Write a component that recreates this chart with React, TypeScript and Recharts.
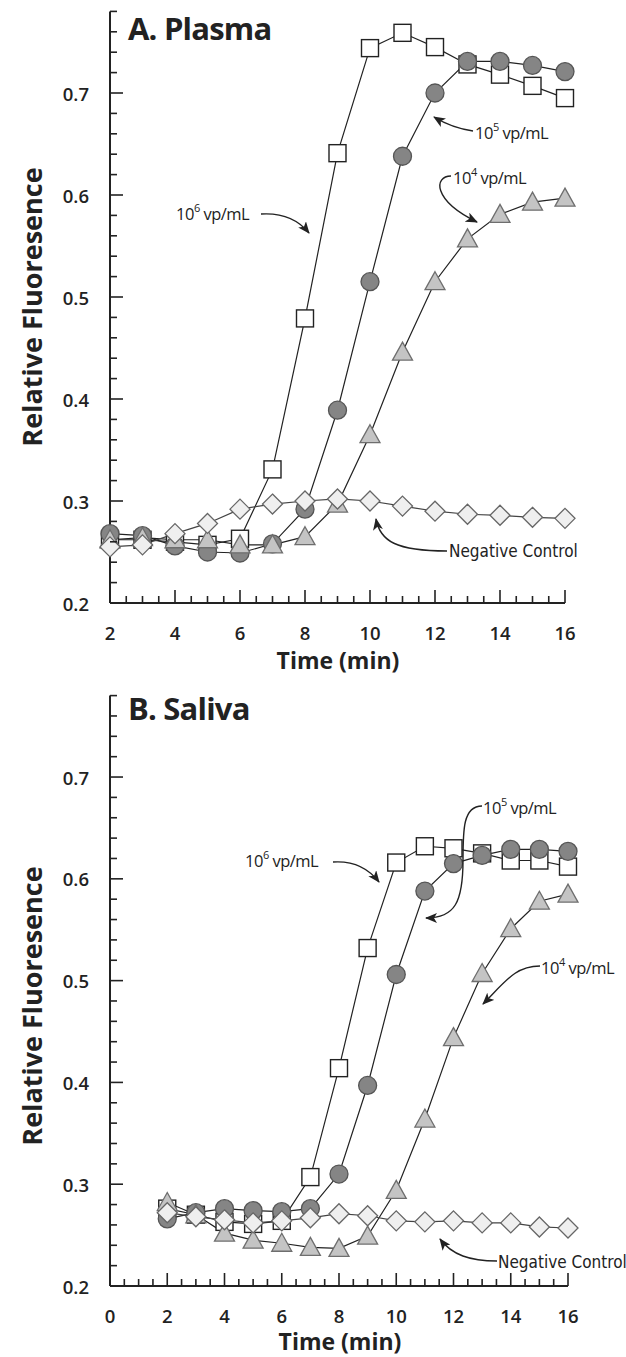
import React from "react";
import { LineChart, Line, XAxis, YAxis } from "recharts";

// time points (min)
const times = [2, 3, 4, 5, 6, 7, 8, 9, 10, 11, 12, 13, 14, 15, 16];

// A. Plasma
const plasma1e6 = [0.262, 0.262, 0.26, 0.257, 0.263, 0.331, 0.479, 0.641, 0.744, 0.759, 0.745, 0.728, 0.718, 0.707, 0.695];
const plasma1e5 = [0.268, 0.266, 0.256, 0.25, 0.249, 0.258, 0.292, 0.389, 0.515, 0.638, 0.7, 0.731, 0.731, 0.727, 0.721];
const plasma1e4 = [0.262, 0.264, 0.262, 0.262, 0.257, 0.257, 0.265, 0.297, 0.365, 0.446, 0.515, 0.557, 0.581, 0.593, 0.597];
const plasmaNeg = [0.255, 0.257, 0.268, 0.278, 0.292, 0.297, 0.3, 0.302, 0.3, 0.295, 0.29, 0.287, 0.286, 0.284, 0.283];

// B. Saliva
const saliva1e6 = [0.276, 0.27, 0.263, 0.261, 0.264, 0.307, 0.414, 0.532, 0.616, 0.632, 0.63, 0.625, 0.618, 0.618, 0.612];
const saliva1e5 = [0.266, 0.272, 0.276, 0.274, 0.273, 0.276, 0.31, 0.397, 0.506, 0.588, 0.615, 0.623, 0.629, 0.629, 0.627];
const saliva1e4 = [0.282, 0.27, 0.252, 0.245, 0.242, 0.238, 0.237, 0.249, 0.294, 0.364, 0.444, 0.507, 0.551, 0.578, 0.585];
const salivaNeg = [0.272, 0.268, 0.265, 0.262, 0.264, 0.267, 0.271, 0.269, 0.264, 0.263, 0.264, 0.262, 0.262, 0.258, 0.257];

// axis labels
const plasmaXLabels = [2, 4, 6, 8, 10, 12, 14, 16];
const salivaXLabels = [0, 2, 4, 6, 8, 10, 12, 14, 16];
const yLabels = [0.2, 0.3, 0.4, 0.5, 0.6, 0.7];

const plasmaXTicks = Array.from({ length: 29 }, (_, i) => 2 + i * 0.5);
const salivaXTicks = Array.from({ length: 33 }, (_, i) => i * 0.5);
const yTicks = Array.from({ length: 30 }, (_, i) => Math.round((0.2 + i * 0.02) * 100) / 100);

const buildRows = (a: number[], b: number[], c: number[], d: number[]) =>
    times.map((t, i) => ({ t, s6: a[i], s5: b[i], s4: c[i], neg: d[i] }));

const plasmaRows = buildRows(plasma1e6, plasma1e5, plasma1e4, plasmaNeg);
const salivaRows = buildRows(saliva1e6, saliva1e5, saliva1e4, salivaNeg);

const FONT = "'Open Sans', 'Noto Sans', sans-serif";
const INK = "#222";

const squareDot = (p: any) => (
    <rect key={`sq-${p.index}`} x={p.cx - 8.5} y={p.cy - 8.5} width={17} height={17}
          fill="#fff" stroke={INK} strokeWidth={1.4} />
);
const circleDot = (p: any) => (
    <circle key={`ci-${p.index}`} cx={p.cx} cy={p.cy} r={9} fill="#858585" stroke="#555" strokeWidth={1.3} />
);
const triangleDot = (p: any) => (
    <path key={`tr-${p.index}`}
          d={`M${p.cx},${p.cy - 10} L${p.cx + 10},${p.cy + 8} L${p.cx - 10},${p.cy + 8} Z`}
          fill="#c4c4c4" stroke="#6e6e6e" strokeWidth={1.3} />
);
const diamondDot = (p: any) => (
    <path key={`di-${p.index}`}
          d={`M${p.cx},${p.cy - 10} L${p.cx + 10},${p.cy} L${p.cx},${p.cy + 10} L${p.cx - 10},${p.cy} Z`}
          fill="#efefef" stroke="#666" strokeWidth={1.3} />
);

const YTick = (props: any) => {
    const { x, y, payload } = props;
    const v = payload.value;
    const major = yLabels.some((l) => Math.abs(l - v) < 1e-6);
    return (
        <g>
            <line x1={x} x2={x + (major ? 13 : 7)} y1={y} y2={y} stroke={INK} strokeWidth={1.6} />
            {major && (
                <text x={x - 21} y={y} textAnchor="end" dominantBaseline="central"
                      fontFamily={FONT} fontSize={18.5} fontWeight={600} fill={INK}>
                    {v.toFixed(1)}
                </text>
            )}
        </g>
    );
};

const makeXTick = (labels: number[]) => (props: any) => {
    const { x, y, payload } = props;
    const v = payload.value;
    const major = labels.includes(v);
    return (
        <g>
            <line x1={x} x2={x} y1={y} y2={y - (major ? 13 : 7)} stroke={INK} strokeWidth={1.6} />
            {major && (
                <text x={x} y={y + 29} textAnchor="middle" dominantBaseline="central"
                      fontFamily={FONT} fontSize={18.5} fontWeight={600} fill={INK}>
                    {v}
                </text>
            )}
        </g>
    );
};

const axisStroke = { stroke: INK, strokeWidth: 2 };

const Panel = ({ rows, xDomain, xTicks, xLabels, height, top, right, xHeight }: any) => (
    <LineChart width={626} height={height} data={rows}
               margin={{ top, right, left: 0, bottom: 0 }}>
        <XAxis dataKey="t" type="number" domain={xDomain} ticks={xTicks} interval={0}
               tick={makeXTick(xLabels)} tickSize={0} tickMargin={0} tickLine={false}
               axisLine={axisStroke} height={xHeight} />
        <YAxis type="number" domain={[0.2, 0.78]} ticks={yTicks} interval={0}
               tick={<YTick />} tickSize={0} tickMargin={0} tickLine={false}
               axisLine={axisStroke} width={110} />
        <Line type="linear" dataKey="s6" stroke={INK} strokeWidth={1.2} dot={squareDot}
              activeDot={false} isAnimationActive={false} />
        <Line type="linear" dataKey="s5" stroke={INK} strokeWidth={1.2} dot={circleDot}
              activeDot={false} isAnimationActive={false} />
        <Line type="linear" dataKey="s4" stroke={INK} strokeWidth={1.2} dot={triangleDot}
              activeDot={false} isAnimationActive={false} />
        <Line type="linear" dataKey="neg" stroke="#444" strokeWidth={1.2} dot={diamondDot}
              activeDot={false} isAnimationActive={false} />
    </LineChart>
);

const Conc = ({ x, y, exp }: { x: number; y: number; exp: string }) => (
    <text x={x} y={y} fontFamily={FONT} fontSize={16.5} fill={INK} letterSpacing={-0.5}
          dominantBaseline="central">
        <tspan>10</tspan>
        <tspan fontSize={11} dy={-6}>{exp}</tspan>
        <tspan dy={6}> vp/mL</tspan>
    </text>
);

const NegLabel = ({ x, y }: { x: number; y: number }) => (
    <text x={x} y={y} fontFamily="'Liberation Sans Narrow', 'DejaVu Sans Condensed', sans-serif"
          fontSize={17} fill={INK} dominantBaseline="central">
        Negative Control
    </text>
);

const Arrow = ({ d }: { d: string }) => (
    <path d={d} fill="none" stroke={INK} strokeWidth={1.4} markerEnd="url(#arrowHead)" />
);

export default function App() {
    return (
        <div style={{ position: "absolute", left: 0, top: 0, width: 626, height: 1357, background: "#fff" }}>
            <div style={{ position: "absolute", left: 0, top: 0 }}>
                <Panel rows={plasmaRows} xDomain={[2, 16]} xTicks={plasmaXTicks} xLabels={plasmaXLabels}
                       height={660} top={11.4} right={61} xHeight={57} />
            </div>
            <div style={{ position: "absolute", left: 0, top: 680 }}>
                <Panel rows={salivaRows} xDomain={[0, 16]} xTicks={salivaXTicks} xLabels={salivaXLabels}
                       height={677} top={15.6} right={58} xHeight={71} />
            </div>
            <svg width={626} height={1357} style={{ position: "absolute", left: 0, top: 0, pointerEvents: "none" }}>
                <defs>
                    <marker id="arrowHead" viewBox="0 0 12 10" refX={11} refY={5} markerWidth={12} markerHeight={10}
                            markerUnits="userSpaceOnUse" orient="auto">
                        <path d="M0,0 L12,5 L0,10 L3,5 Z" fill={INK} />
                    </marker>
                </defs>

                {/* titles */}
                <text x={128} y={40} fontFamily={FONT} fontWeight={700} fontSize={31} letterSpacing={-0.8} fill={INK}>
                    A. Plasma
                </text>
                <text x={128} y={720} fontFamily={FONT} fontWeight={700} fontSize={31} letterSpacing={-0.8} fill={INK}>
                    B. Saliva
                </text>

                {/* axis titles */}
                <text x={338} y={660} textAnchor="middle" dominantBaseline="central" fontFamily={FONT}
                      fontWeight={700} fontSize={23} fill={INK}>Time (min)</text>
                <text x={340} y={1341} textAnchor="middle" dominantBaseline="central" fontFamily={FONT}
                      fontWeight={700} fontSize={23} fill={INK}>Time (min)</text>
                <text transform="translate(31,307) rotate(-90)" textAnchor="middle" dominantBaseline="central"
                      fontFamily={FONT} fontWeight={700} fontSize={27} fill={INK}>Relative Fluoresence</text>
                <text transform="translate(31,1006) rotate(-90)" textAnchor="middle" dominantBaseline="central"
                      fontFamily={FONT} fontWeight={700} fontSize={27} fill={INK}>Relative Fluoresence</text>

                {/* plasma annotations */}
                <Conc x={176} y={213} exp="6" />
                <Arrow d="M261 214 Q292 212 309 233" />
                <Conc x={475} y={132} exp="5" />
                <Arrow d="M473 131 Q452 128 434 117" />
                <Conc x={453} y={177} exp="4" />
                <Arrow d="M451 176 C434 176, 432 200, 477 222" />
                <NegLabel x={449} y={551} />
                <Arrow d="M447 551 C396 551, 380 541, 376 519" />

                {/* saliva annotations */}
                <Conc x={245} y={860} exp="6" />
                <Arrow d="M333 862 Q362 860 379 882" />
                <Conc x={483} y={807} exp="5" />
                <Arrow d="M482 806 C463 806, 463 830, 463 860 C463 902, 455 918, 426 918" />
                <Conc x={541} y={967} exp="4" />
                <Arrow d="M540 966 C515 966, 505 982, 483 1004" />
                <NegLabel x={498} y={1262} />
                <Arrow d="M497 1261 C470 1261, 452 1255, 440 1239" />
            </svg>
        </div>
    );
}
